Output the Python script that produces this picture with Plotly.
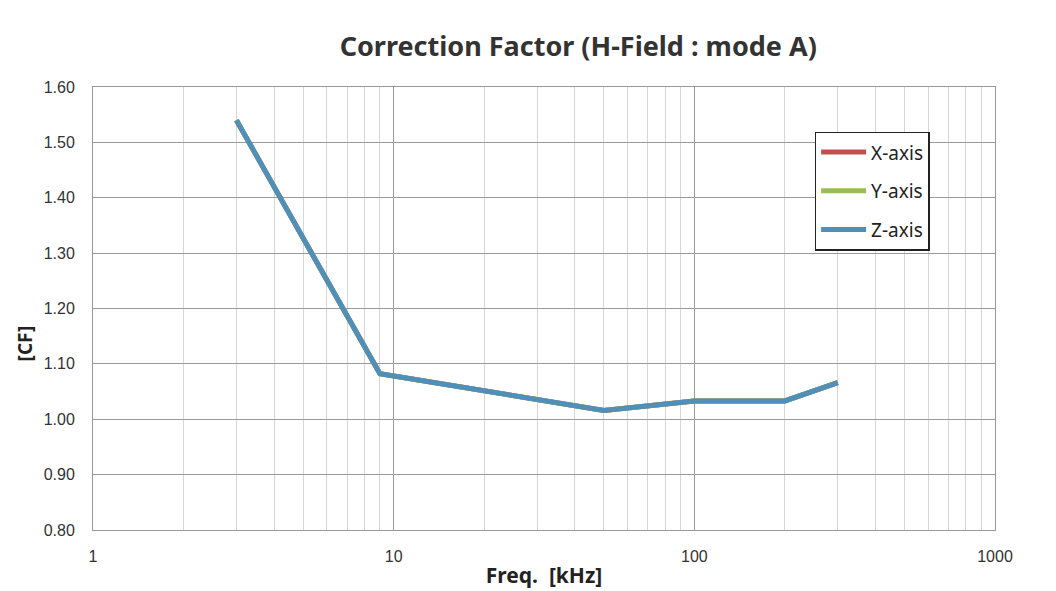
import plotly.graph_objects as go

freq_khz = [3, 9, 50, 100, 200, 300]
cf_x = [1.54, 1.082, 1.016, 1.033, 1.033, 1.066]
cf_y = [1.54, 1.082, 1.016, 1.033, 1.033, 1.066]
cf_z = [1.54, 1.082, 1.016, 1.033, 1.033, 1.066]
series_names = ["X-axis", "Y-axis", "Z-axis"]
series_colors = ["#c0504d", "#9bbb59", "#4f8fb8"]
y_ticks = [0.80, 0.90, 1.00, 1.10, 1.20, 1.30, 1.40, 1.50, 1.60]
x_ticks = [1, 10, 100, 1000]
minor_ticks = [m * d for d in (1, 10, 100) for m in range(2, 10)]

fig = go.Figure()
for name, vals, col in zip(series_names, [cf_x, cf_y, cf_z], series_colors):
    fig.add_trace(go.Scatter(
        x=freq_khz, y=vals, mode="lines", name=name,
        line=dict(color=col, width=5), legendgroup=name,
    ))

fig.update_layout(
    width=1056, height=591,
    paper_bgcolor="white", plot_bgcolor="white",
    margin=dict(l=85, r=69, t=79, b=69),
    title=dict(text="<b>Correction Factor (H-Field : mode A)</b>",
               x=0.54, xanchor="center", y=0.935, yanchor="middle",
               font=dict(family="Noto Sans", size=27, color="#333333")),
    font=dict(family="Liberation Sans", size=16, color="#333333"),
    legend=dict(x=0.800, y=0.899, xanchor="left", yanchor="top",
                bordercolor="#222222", borderwidth=1.5, bgcolor="white",
                font=dict(family="Noto Sans", size=19, color="#222222"),
                tracegroupgap=11, itemwidth=45),
    showlegend=True,
    annotations=[dict(text="<b>[CF]</b>", xref="paper", yref="paper",
                      x=-0.075, y=0.422, textangle=-90, showarrow=False,
                      xanchor="center", yanchor="middle",
                      font=dict(family="Noto Sans", size=19, color="#222222"))],
)
fig.update_xaxes(
    type="log", range=[0, 3], tickvals=x_ticks, ticktext=[str(v) for v in x_ticks],
    showgrid=True, gridcolor="#9a9a9a", gridwidth=1,
    minor=dict(tickvals=minor_ticks, showgrid=True, gridcolor="#d6d6d6", gridwidth=1, ticks=""),
    showline=True, linecolor="#9a9a9a", linewidth=1, mirror=True,
    ticks="", ticklabelstandoff=12,
    title=dict(text="<b>Freq.  [kHz]</b>", standoff=4,
               font=dict(family="Noto Sans", size=21, color="#222222")),
    zeroline=False,
)
fig.update_yaxes(
    range=[0.80, 1.60], tickvals=y_ticks, tickformat=".2f",
    showgrid=True, gridcolor="#9a9a9a", gridwidth=1,
    showline=True, linecolor="#9a9a9a", linewidth=1, mirror=True,
    ticks="", ticklabelstandoff=14,
    zeroline=False,
)

fig.write_html("out.html")
